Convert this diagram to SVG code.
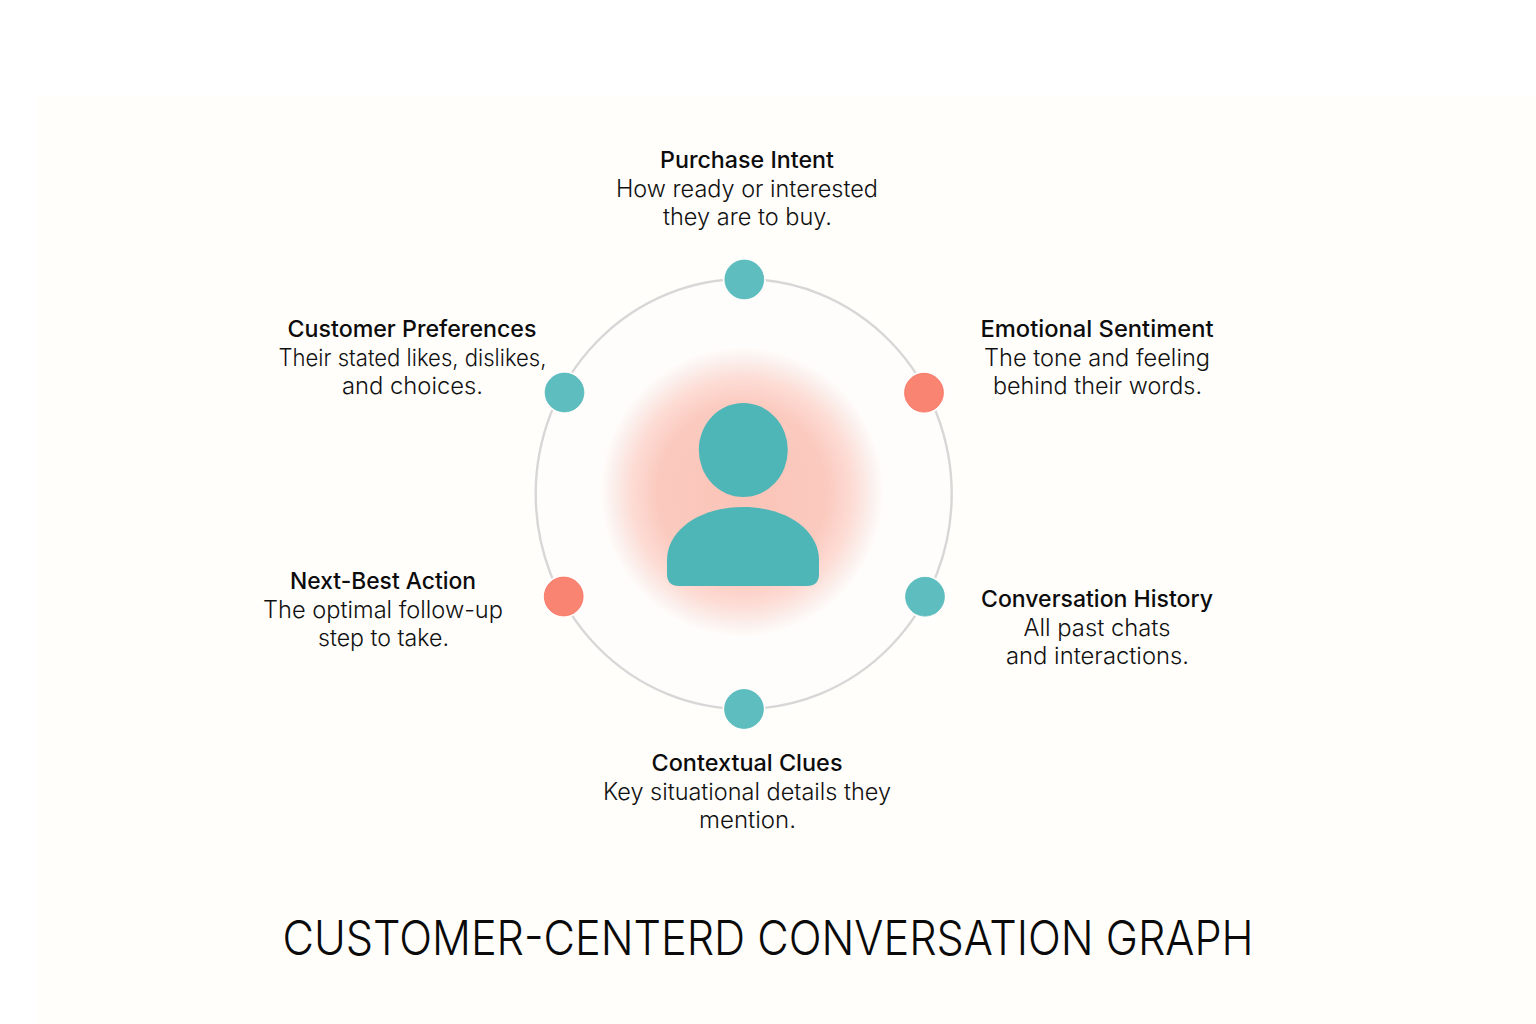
<svg xmlns="http://www.w3.org/2000/svg" width="1536" height="1024" viewBox="0 0 1536 1024">
<style>
text{font-family:"Inter","Noto Sans","Liberation Sans",sans-serif;text-anchor:middle;fill:#0c0c0c}
.t{font-size:23px;font-weight:500}
.b{font-size:23.5px;font-weight:300;fill:#111}
.title{font-size:48px;font-weight:300;fill:#0a0a0a}
.halo{fill:#fffdfb}
.teal{fill:#5dbdbf;stroke:#57b9bb;stroke-width:.8}
.coral{fill:#fa8472;stroke:#f6705e;stroke-width:.8}
.ic{fill:#4fb6b8}
</style>
<defs>
<radialGradient id="glow">
<stop offset="0" stop-color="#fbc3b7"/>
<stop offset=".6" stop-color="#fbcabf"/>
<stop offset=".78" stop-color="#fddcd5"/>
<stop offset=".92" stop-color="#fbf1ee"/>
<stop offset="1" stop-color="#fffdfb"/>
</radialGradient>
</defs>
<rect width="1536" height="1024" fill="#fff"/>
<rect x="37" y="95" width="1499" height="929" fill="#fffefb"/>
<g id="connectors">
<ellipse cx="743.7" cy="494" rx="208" ry="215" fill="#fffdfb" stroke="#d7d7d7" stroke-width="2.4"/>
</g>
<g id="customer">
<ellipse cx="742" cy="492" rx="142" ry="145" fill="url(#glow)"/>
<ellipse class="ic" cx="743.3" cy="450" rx="44.5" ry="47"/>
<path class="ic" d="M667 574V560C667 530 700 507 743 507S819 530 819 560V574Q819 586 807 586H679Q667 586 667 574Z"/>
</g>
<g id="purchase-intent">
<circle class="halo" cx="744.3" cy="279.5" r="21.5"/>
<circle class="teal" cx="744.3" cy="279.5" r="19.4"/>
<text class="t" x="747" y="168" textLength="174" lengthAdjust="spacingAndGlyphs">Purchase Intent</text>
<text class="b" x="747" y="197" textLength="262" lengthAdjust="spacingAndGlyphs">How ready or interested</text>
<text class="b" x="747.5" y="225" textLength="169" lengthAdjust="spacingAndGlyphs">they are to buy.</text>
</g>
<g id="emotional-sentiment">
<circle class="halo" cx="924" cy="392.7" r="21.5"/>
<circle class="coral" cx="924" cy="392.7" r="19.4"/>
<text class="t" x="1097" y="337" textLength="233" lengthAdjust="spacingAndGlyphs">Emotional Sentiment</text>
<text class="b" x="1097" y="366" textLength="226" lengthAdjust="spacingAndGlyphs">The tone and feeling</text>
<text class="b" x="1097.5" y="394" textLength="209" lengthAdjust="spacingAndGlyphs">behind their words.</text>
</g>
<g id="conversation-history">
<circle class="halo" cx="925" cy="596.7" r="21.5"/>
<circle class="teal" cx="925" cy="596.7" r="19.4"/>
<text class="t" x="1097" y="607" textLength="232" lengthAdjust="spacingAndGlyphs">Conversation History</text>
<text class="b" x="1097" y="636" textLength="147" lengthAdjust="spacingAndGlyphs">All past chats</text>
<text class="b" x="1097.5" y="664" textLength="183" lengthAdjust="spacingAndGlyphs">and interactions.</text>
</g>
<g id="contextual-clues">
<circle class="halo" cx="744" cy="709" r="21.5"/>
<circle class="teal" cx="744" cy="709" r="19.4"/>
<text class="t" x="747" y="771" textLength="191" lengthAdjust="spacingAndGlyphs">Contextual Clues</text>
<text class="b" x="747" y="800" textLength="288" lengthAdjust="spacingAndGlyphs">Key situational details they</text>
<text class="b" x="747.5" y="828" textLength="97" lengthAdjust="spacingAndGlyphs">mention.</text>
</g>
<g id="next-best-action">
<circle class="halo" cx="563.7" cy="596.5" r="21.5"/>
<circle class="coral" cx="563.7" cy="596.5" r="19.4"/>
<text class="t" x="383" y="589" textLength="186" lengthAdjust="spacingAndGlyphs">Next-Best Action</text>
<text class="b" x="383" y="618" textLength="240" lengthAdjust="spacingAndGlyphs">The optimal follow-up</text>
<text class="b" x="383.5" y="646" textLength="131" lengthAdjust="spacingAndGlyphs">step to take.</text>
</g>
<g id="customer-preferences">
<circle class="halo" cx="564.5" cy="392.5" r="21.5"/>
<circle class="teal" cx="564.5" cy="392.5" r="19.4"/>
<text class="t" x="412" y="337" textLength="249" lengthAdjust="spacingAndGlyphs">Customer Preferences</text>
<text class="b" x="412.5" y="366" textLength="268" lengthAdjust="spacingAndGlyphs">Their stated likes, dislikes,</text>
<text class="b" x="412.5" y="394" textLength="141" lengthAdjust="spacingAndGlyphs">and choices.</text>
</g>
<text class="title" x="768" y="955" textLength="971" lengthAdjust="spacingAndGlyphs">CUSTOMER-CENTERD CONVERSATION GRAPH</text>
</svg>
